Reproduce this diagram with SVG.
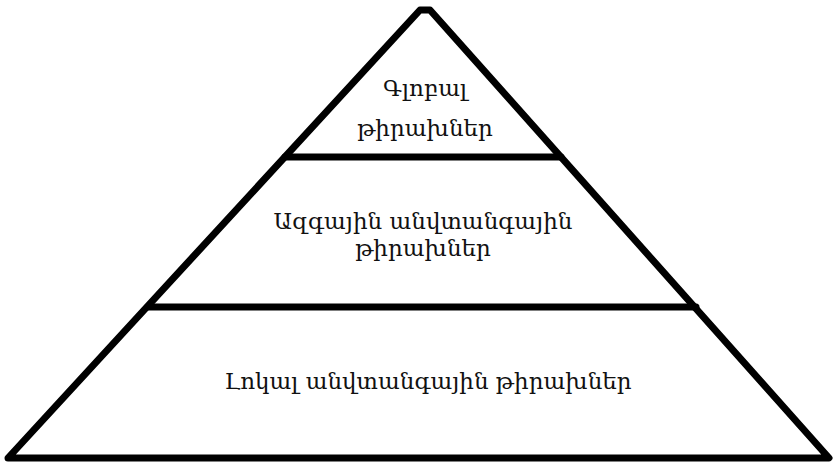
<svg xmlns="http://www.w3.org/2000/svg" width="836" height="462" viewBox="0 0 836 462">
<style>
.edge{fill:none;stroke:#000;stroke-width:7;stroke-linejoin:round;stroke-linecap:round}
.t{font-family:"DejaVu Serif","Noto Sans",serif;font-size:23px;fill:#111;text-anchor:middle}
</style>
<rect width="836" height="462" fill="#fff"/>
<g id="connectors">
<path class="edge" d="M8,458 L420,10 L430,10 L829,458 Z"/>
<line class="edge" x1="285" y1="157" x2="561" y2="157"/>
<line class="edge" x1="148" y1="307" x2="696" y2="307"/>
</g>
<g id="top"><text class="t" x="425" y="96">Գլոբալ</text><text class="t" x="425" y="136">թիրախներ</text></g>
<g id="middle"><text class="t" x="423" y="229">Ազգային անվտանգային</text><text class="t" x="423" y="256">թիրախներ</text></g>
<g id="bottom"><text class="t" x="428" y="389">Լոկալ անվտանգային թիրախներ</text></g>
</svg>
